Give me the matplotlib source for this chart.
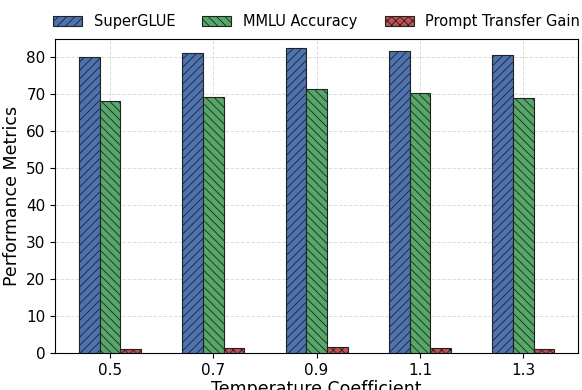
import numpy as np
import matplotlib
matplotlib.use("Agg")
import matplotlib.pyplot as plt

# Data
temps = ["0.5", "0.7", "0.9", "1.1", "1.3"]
superglue = [80.0, 81.2, 82.5, 81.7, 80.7]
mmlu = [68.1, 69.3, 71.4, 70.4, 69.1]
transfer_gain = [1.2, 1.4, 1.5, 1.4, 1.2]

series = [
    ("SuperGLUE", superglue, "#4c72b0", "////"),
    ("MMLU Accuracy", mmlu, "#55a868", "\\\\\\\\"),
    ("Prompt Transfer Gain", transfer_gain, "#c44e52", "xxxx"),
]

plt.rcParams["hatch.linewidth"] = 0.6
fig = plt.figure(figsize=(5.82, 3.9), dpi=100)
ax = fig.add_axes([0.095, 0.095, 0.898, 0.805])

x = np.arange(len(temps))
width = 0.2
for i, (name, vals, color, hatch) in enumerate(series):
    ax.bar(x + (i - 1) * width, vals, width, label=name, color=color,
           edgecolor="#222222", linewidth=0.8, hatch=hatch, zorder=3)

ax.set_xticks(x)
ax.set_xticklabels(temps, fontsize=11)
ax.tick_params(axis="y", labelsize=11)
ax.set_ylim(0, 85)
ax.set_xlabel("Temperature Coefficient", fontsize=12.5, labelpad=2)
ax.set_ylabel("Performance Metrics", fontsize=12.5, labelpad=4)
ax.grid(True, linestyle="--", color="#dddddd", linewidth=0.7, zorder=0)

ax.legend(loc="lower center", bbox_to_anchor=(0.5, 1.0), ncol=3,
          frameon=False, fontsize=10.5, columnspacing=1.85, borderaxespad=0.3)

fig.savefig("out.png", dpi=100)
